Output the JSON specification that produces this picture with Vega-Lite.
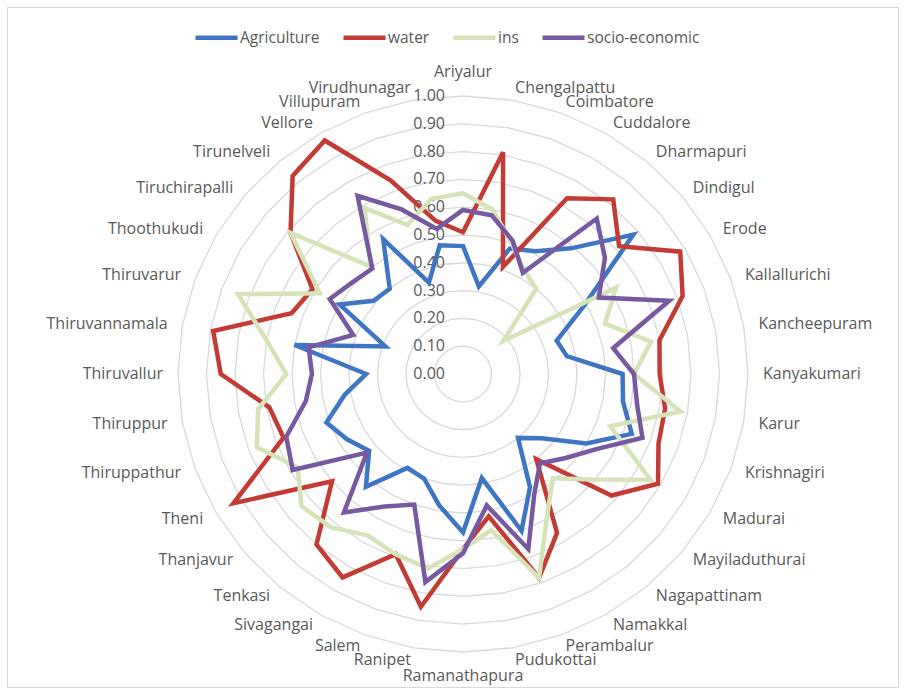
{
  "$schema": "https://vega.github.io/schema/vega-lite/v6.json",
  "width": 891,
  "height": 680,
  "autosize": "none",
  "padding": {"left": 7, "top": 7, "right": 7, "bottom": 4},
  "background": "#FFFFFF",
  "config": {
    "view": {"stroke": "#D9D9D9", "strokeWidth": 1},
    "text": {"font": "Open Sans", "fontSize": 16, "color": "#595959"}
  },
  "datasets": {
    "districts": [
      {"district": "Ariyalur", "Agriculture": 0.46, "water": 0.51, "ins": 0.65, "socio-economic": 0.59},
      {"district": "Chengalpattu", "Agriculture": 0.32, "water": 0.81, "ins": 0.60, "socio-economic": 0.58},
      {"district": "Coimbatore", "Agriculture": 0.48, "water": 0.41, "ins": 0.50, "socio-economic": 0.51},
      {"district": "Cuddalore", "Agriculture": 0.51, "water": 0.73, "ins": 0.43, "socio-economic": 0.42},
      {"district": "Dharmapuri", "Agriculture": 0.59, "water": 0.82, "ins": 0.40, "socio-economic": 0.73},
      {"district": "Dindigul", "Agriculture": 0.78, "water": 0.715, "ins": 0.185, "socio-economic": 0.65},
      {"district": "Erode", "Agriculture": 0.49, "water": 0.88, "ins": 0.62, "socio-economic": 0.55},
      {"district": "Kallallurichi", "Agriculture": 0.35, "water": 0.82, "ins": 0.53, "socio-economic": 0.77},
      {"district": "Kancheepuram", "Agriculture": 0.37, "water": 0.70, "ins": 0.67, "socio-economic": 0.535},
      {"district": "Kanyakumari", "Agriculture": 0.56, "water": 0.69, "ins": 0.60, "socio-economic": 0.60},
      {"district": "Karur", "Agriculture": 0.57, "water": 0.72, "ins": 0.775, "socio-economic": 0.62},
      {"district": "Krishnagiri", "Agriculture": 0.63, "water": 0.73, "ins": 0.55, "socio-economic": 0.67},
      {"district": "Madurai", "Agriculture": 0.50, "water": 0.79, "ins": 0.76, "socio-economic": 0.54},
      {"district": "Mayiladuthurai", "Agriculture": 0.36, "water": 0.68, "ins": 0.59, "socio-economic": 0.47},
      {"district": "Nagapattinam", "Agriculture": 0.30, "water": 0.40, "ins": 0.49, "socio-economic": 0.42},
      {"district": "Namakkal", "Agriculture": 0.47, "water": 0.66, "ins": 0.59, "socio-economic": 0.50},
      {"district": "Perambalur", "Agriculture": 0.60, "water": 0.78, "ins": 0.78, "socio-economic": 0.67},
      {"district": "Pudukottai", "Agriculture": 0.38, "water": 0.52, "ins": 0.57, "socio-economic": 0.48},
      {"district": "Ramanathapura", "Agriculture": 0.57, "water": 0.63, "ins": 0.63, "socio-economic": 0.645},
      {"district": "Ranipet", "Agriculture": 0.48, "water": 0.85, "ins": 0.71, "socio-economic": 0.76},
      {"district": "Salem", "Agriculture": 0.40, "water": 0.69, "ins": 0.69, "socio-economic": 0.50},
      {"district": "Sivagangai", "Agriculture": 0.39, "water": 0.845, "ins": 0.67, "socio-economic": 0.55},
      {"district": "Tenkasi", "Agriculture": 0.53, "water": 0.80, "ins": 0.72, "socio-economic": 0.65},
      {"district": "Thanjavur", "Agriculture": 0.43, "water": 0.60, "ins": 0.74, "socio-economic": 0.44},
      {"district": "Theni", "Agriculture": 0.47, "water": 0.93, "ins": 0.67, "socio-economic": 0.69},
      {"district": "Thiruppathur", "Agriculture": 0.51, "water": 0.67, "ins": 0.77, "socio-economic": 0.66},
      {"district": "Thiruppur", "Agriculture": 0.42, "water": 0.69, "ins": 0.73, "socio-economic": 0.56},
      {"district": "Thiruvallur", "Agriculture": 0.34, "water": 0.85, "ins": 0.62, "socio-economic": 0.53},
      {"district": "Thiruvannamala", "Agriculture": 0.60, "water": 0.89, "ins": 0.70, "socio-economic": 0.55},
      {"district": "Thiruvarur", "Agriculture": 0.29, "water": 0.64, "ins": 0.84, "socio-economic": 0.41},
      {"district": "Thoothukudi", "Agriculture": 0.50, "water": 0.61, "ins": 0.58, "socio-economic": 0.54},
      {"district": "Tiruchirapalli", "Agriculture": 0.41, "water": 0.79, "ins": 0.79, "socio-economic": 0.51},
      {"district": "Tirunelveli", "Agriculture": 0.40, "water": 0.93, "ins": 0.505, "socio-economic": 0.495},
      {"district": "Vellore", "Agriculture": 0.56, "water": 0.97, "ins": 0.69, "socio-economic": 0.74},
      {"district": "Villupuram", "Agriculture": 0.35, "water": 0.74, "ins": 0.57, "socio-economic": 0.63},
      {"district": "Virudhunagar", "Agriculture": 0.47, "water": 0.56, "ins": 0.64, "socio-economic": 0.53}
    ],
    "rings": [
      {"level": 0.0, "k": 0, "filler": 0},
      {"level": 0.1, "k": 0, "filler": 0},
      {"level": 0.2, "k": 0, "filler": 0},
      {"level": 0.3, "k": 0, "filler": 0},
      {"level": 0.4, "k": 0, "filler": 0},
      {"level": 0.5, "k": 0, "filler": 0},
      {"level": 0.6, "k": 0, "filler": 0},
      {"level": 0.7, "k": 0, "filler": 0},
      {"level": 0.8, "k": 0, "filler": 0},
      {"level": 0.9, "k": 0, "filler": 0},
      {"level": 1.0, "k": 0, "filler": 0}
    ]
  },
  "layer": [
    {
      "data": {"name": "rings"},
      "transform": [
        {"filter": "datum.level > 0"},
        {"impute": "filler", "key": "k", "keyvals": [0,1,2,3,4,5,6,7,8,9,10,11,12,13,14,15,16,17,18,19,20,21,22,23,24,25,26,27,28,29,30,31,32,33,34,35], "groupby": ["level"], "value": 0},
        {"calculate": "datum.k * PI / 18", "as": "a"},
        {"calculate": "datum.level * sin(datum.a)", "as": "px"},
        {"calculate": "datum.level * cos(datum.a)", "as": "py"}
      ],
      "mark": {"type": "line", "interpolate": "linear-closed", "stroke": "#D9D9D9", "strokeWidth": 1.3},
      "encoding": {
        "x": {"field": "px", "type": "quantitative", "scale": {"domain": [-1.6, 1.5263], "nice": false, "zero": false}, "axis": null},
        "y": {"field": "py", "type": "quantitative", "scale": {"domain": [-1.1259, 1.3201], "nice": false, "zero": false}, "axis": null},
        "detail": {"field": "level", "type": "nominal"},
        "order": {"field": "k", "type": "quantitative"}
      }
    },
    {
      "data": {"name": "rings"},
      "transform": [
        {"calculate": "0", "as": "px"}
      ],
      "mark": {"type": "text", "align": "right", "baseline": "middle", "dx": -18, "fontSize": 16, "color": "#595959", "font": "Open Sans"},
      "encoding": {
        "x": {"field": "px", "type": "quantitative", "scale": {"domain": [-1.6, 1.5263], "nice": false, "zero": false}, "axis": null},
        "y": {"field": "level", "type": "quantitative", "scale": {"domain": [-1.1259, 1.3201], "nice": false, "zero": false}, "axis": null},
        "text": {"field": "level", "type": "quantitative", "format": ".2f"}
      }
    },
    {
      "data": {"name": "districts"},
      "transform": [
        {"window": [{"op": "row_number", "as": "idx"}]},
        {"calculate": "(datum.idx - 1) * PI / 18", "as": "a"},
        {"filter": "sin(datum.a) > 0.01"},
        {"calculate": "sin(datum.a) * 1.0526", "as": "px"},
        {"calculate": "cos(datum.a) * 1.043", "as": "py"}
      ],
      "mark": {"type": "text", "align": "left", "baseline": "middle", "fontSize": 16, "color": "#595959", "font": "Open Sans"},
      "encoding": {
        "x": {"field": "px", "type": "quantitative", "scale": {"domain": [-1.6, 1.5263], "nice": false, "zero": false}, "axis": null},
        "y": {"field": "py", "type": "quantitative", "scale": {"domain": [-1.1259, 1.3201], "nice": false, "zero": false}, "axis": null},
        "text": {"field": "district", "type": "nominal"}
      }
    },
    {
      "data": {"name": "districts"},
      "transform": [
        {"window": [{"op": "row_number", "as": "idx"}]},
        {"calculate": "(datum.idx - 1) * PI / 18", "as": "a"},
        {"filter": "sin(datum.a) < -0.01"},
        {"calculate": "sin(datum.a) * 1.0526", "as": "px"},
        {"calculate": "cos(datum.a) * 1.043", "as": "py"}
      ],
      "mark": {"type": "text", "align": "right", "baseline": "middle", "fontSize": 16, "color": "#595959", "font": "Open Sans"},
      "encoding": {
        "x": {"field": "px", "type": "quantitative", "scale": {"domain": [-1.6, 1.5263], "nice": false, "zero": false}, "axis": null},
        "y": {"field": "py", "type": "quantitative", "scale": {"domain": [-1.1259, 1.3201], "nice": false, "zero": false}, "axis": null},
        "text": {"field": "district", "type": "nominal"}
      }
    },
    {
      "data": {"name": "districts"},
      "transform": [
        {"window": [{"op": "row_number", "as": "idx"}]},
        {"calculate": "(datum.idx - 1) * PI / 18", "as": "a"},
        {"filter": "abs(sin(datum.a)) <= 0.01"},
        {"calculate": "0", "as": "px"},
        {"calculate": "cos(datum.a) * 1.086", "as": "py"}
      ],
      "mark": {"type": "text", "align": "center", "baseline": "middle", "fontSize": 16, "color": "#595959", "font": "Open Sans"},
      "encoding": {
        "x": {"field": "px", "type": "quantitative", "scale": {"domain": [-1.6, 1.5263], "nice": false, "zero": false}, "axis": null},
        "y": {"field": "py", "type": "quantitative", "scale": {"domain": [-1.1259, 1.3201], "nice": false, "zero": false}, "axis": null},
        "text": {"field": "district", "type": "nominal"}
      }
    },
    {
      "data": {"name": "districts"},
      "transform": [
        {"window": [{"op": "row_number", "as": "idx"}]},
        {"fold": ["Agriculture", "water", "ins", "socio-economic"], "as": ["series", "value"]},
        {"calculate": "(datum.idx - 1) * PI / 18", "as": "a"},
        {"calculate": "datum.value * sin(datum.a)", "as": "px"},
        {"calculate": "datum.value * cos(datum.a)", "as": "py"}
      ],
      "mark": {"type": "line", "interpolate": "linear-closed", "strokeWidth": 4.5},
      "encoding": {
        "x": {"field": "px", "type": "quantitative", "scale": {"domain": [-1.6, 1.5263], "nice": false, "zero": false}, "axis": null},
        "y": {"field": "py", "type": "quantitative", "scale": {"domain": [-1.1259, 1.3201], "nice": false, "zero": false}, "axis": null},
        "order": {"field": "idx", "type": "quantitative"},
        "color": {
          "field": "series",
          "type": "nominal",
          "scale": {
            "domain": ["Agriculture", "water", "ins", "socio-economic"],
            "range": ["#3E76C4", "#C33B35", "#D6E3B8", "#7659A0"]
          },
          "legend": {
            "title": null,
            "orient": "none",
            "legendX": 186,
            "legendY": 7,
            "direction": "horizontal",
            "symbolType": "stroke",
            "symbolStrokeWidth": 4.5,
            "symbolSize": 1764,
            "labelFontSize": 15.5,
            "labelFont": "Open Sans",
            "labelColor": "#595959",
            "columnPadding": 14,
            "labelOffset": 0
          }
        }
      }
    }
  ]
}
